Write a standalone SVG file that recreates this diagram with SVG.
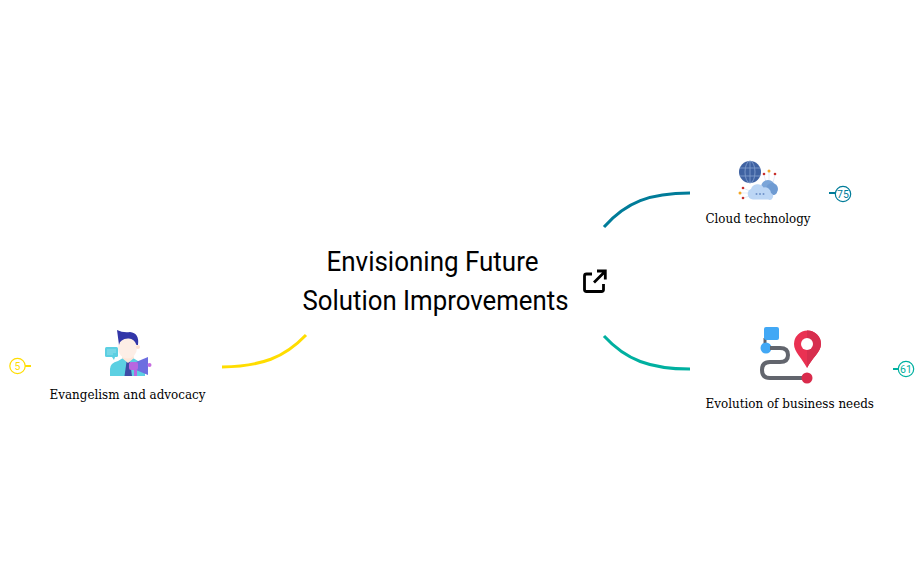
<svg xmlns="http://www.w3.org/2000/svg" width="924" height="572" viewBox="0 0 924 572">
<style>
.t{font-family:"Roboto","Liberation Sans",sans-serif;font-size:27px;fill:#000}
.l{font-family:"DejaVu Serif","Liberation Serif",serif;font-size:13.500px;fill:#000}
.c{fill:none;stroke-width:3}
.k{stroke-width:2}
.b{fill:#fff;stroke-width:1.200}
.n{font-family:"Roboto","Liberation Sans",sans-serif;font-size:10.500px;text-anchor:middle}
</style>
<rect width="924" height="572" fill="#fff"/>
<g id="connectors">
<path class="c" d="M604 227C626 202 650 193 690 193" stroke="#007c99"/>
<path class="c" d="M604 336C626 360 650 369 690 369" stroke="#00b0a0"/>
<path class="c" d="M306 335C284 358 262 366 222 367" stroke="#ffdd00"/>
</g>
<g id="root">
<text class="t" x="326.500" y="271" textLength="212" lengthAdjust="spacingAndGlyphs">Envisioning Future</text>
<text class="t" x="302.500" y="310" textLength="266" lengthAdjust="spacingAndGlyphs">Solution Improvements</text>
<g fill="none" stroke="#000" stroke-width="2.800">
<path d="M592 274H586.500Q584.500 274 584.500 276V289.500Q584.500 291.500 586.500 291.500H601.500Q603.500 291.500 603.500 289.500V284"/>
<path d="M594 282.500L604.500 272M597 271H605.300V279.500"/>
</g>
</g>
<g id="cloud">
<circle cx="750" cy="172" r="11" fill="#3f62a2"/>
<g fill="none" stroke="#7f9ccc" stroke-width="0.900">
<ellipse cx="750" cy="172" rx="5" ry="11"/><path d="M740 168H760M740 176H760M750 161V183"/>
</g>
<path d="M769 172V182M764 175 767 186M775 175 772 186M741 193H752M743 188 750 191M743 198 750 196" stroke="#d9e3f3" stroke-width="0.700" fill="none"/>
<circle cx="769" cy="171" r="1.500" fill="#f5a623"/><circle cx="764" cy="174" r="1.300" fill="#c9302c"/><circle cx="775" cy="174" r="1.300" fill="#c9302c"/>
<circle cx="740" cy="193" r="1.500" fill="#f5a623"/><circle cx="743" cy="188" r="1.300" fill="#c9302c"/><circle cx="743" cy="198" r="1.300" fill="#c9302c"/>
<circle cx="768" cy="187" r="7" fill="#7ba5d8"/><circle cx="772" cy="189" r="6" fill="#6f9bd2"/><rect x="762" y="187" width="15" height="8" rx="4" fill="#6f9bd2"/>
<path d="M753 199.500A5.500 5.500 0 0 1 751 189 7 7 0 0 1 763.500 187.500 6 6 0 0 1 771 193 3.500 3.500 0 0 1 768 199.500Z" fill="#bcd6f5"/>
<g fill="#6f93c9"><circle cx="756.500" cy="194" r="1"/><circle cx="760" cy="194" r="1"/><circle cx="763.500" cy="194" r="1"/></g>
<text class="l" x="705.500" y="223" textLength="105" lengthAdjust="spacingAndGlyphs">Cloud technology</text>
<path class="k" d="M829 193H835" stroke="#007c99"/>
<circle class="b" cx="843" cy="194" r="7.700" stroke="#007c99"/>
<text class="n" x="843" y="198" fill="#007c99">75</text>
</g>
<g id="business">
<path d="M765 348V338" stroke="#5d6068" stroke-width="3"/>
<rect x="764" y="327" width="15" height="13" rx="2" fill="#42a8f5"/>
<circle cx="766" cy="348" r="5.500" fill="#42a8f5"/>
<path d="M770 348H780Q788 348 788 355 788 362 780 362H770Q762 362 762 370 762 378 770 378H804" fill="none" stroke="#62656d" stroke-width="4"/>
<path d="M807 368C802 358 794 352 794 344A13.500 13.500 0 0 1 821 344C821 352 812 358 807 368Z" fill="#ea3152"/>
<path d="M807 368C812 358 821 352 821 344A13.500 13.500 0 0 0 807 330.500Z" fill="#d72e4e"/>
<circle cx="807" cy="344" r="6" fill="#fff"/>
<circle cx="807" cy="378" r="5.500" fill="#d92b4b"/>
<text class="l" x="705.500" y="408" textLength="168.500" lengthAdjust="spacingAndGlyphs">Evolution of business needs</text>
<path class="k" d="M893 369H899" stroke="#00b0a0"/>
<circle class="b" cx="906" cy="369" r="7.700" stroke="#00b0a0"/>
<text class="n" x="906" y="373" fill="#00b0a0">61</text>
</g>
<g id="evangelism">
<path d="M110 376V369Q110 363 118 361L123 358H133L138 361Q144 363 145 368V376Z" fill="#5cd0e2"/>
<path d="M124.500 376 126.500 362H130L132 376Z" fill="#3e4ba5"/>
<path d="M122 358 128 363 134 358 133 353H123Z" fill="#fde6d8"/>
<ellipse cx="127.500" cy="348" rx="9.500" ry="10.500" fill="#fdeee6"/>
<circle cx="138" cy="347" r="2" fill="#fde0cf"/>
<path d="M117 330 119 345Q120 339 128 338.500 134 338 136.500 345H138Q139.500 333 130 332 123 333 117 330Z" fill="#3236a8"/>
<rect x="105" y="347" width="13" height="10" rx="1.500" fill="#5ccfe2"/>
<path d="M112 357 114 360 115 357Z" fill="#5ccfe2"/>
<path d="M107 350H116M107 352H116M107 354H113" stroke="#a9e6ef" stroke-width="0.700"/>
<path d="M136 362 148 357V375L136 370Z" fill="#6d6ee0"/>
<rect x="129" y="362" width="9" height="8" rx="2" fill="#b767e0"/>
<path d="M134 370H137V376H134Z" fill="#b767e0"/>
<circle cx="149.500" cy="365" r="2" fill="#c56be0"/>
<text class="l" x="49.500" y="399" textLength="156" lengthAdjust="spacingAndGlyphs">Evangelism and advocacy</text>
<path class="k" d="M25 366H31" stroke="#ffdd00"/>
<circle class="b" cx="17.500" cy="366" r="7.700" stroke="#ffdd00"/>
<text class="n" x="17.500" y="370" fill="#ffdd00">5</text>
</g>
</svg>
